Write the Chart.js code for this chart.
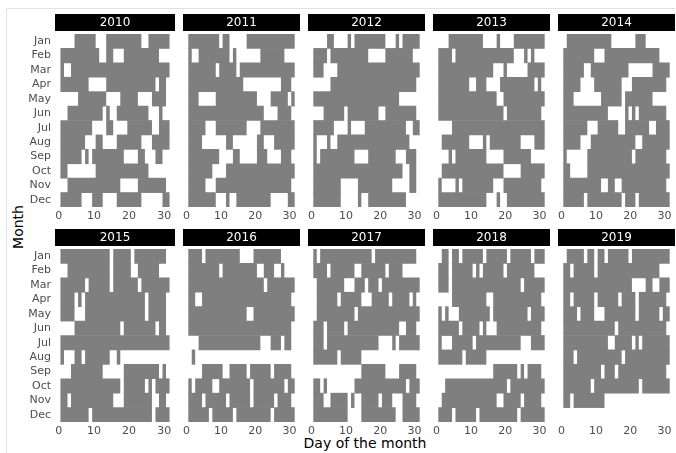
<!DOCTYPE html>
<html>
<head>
<meta charset="utf-8">
<script src="https://cdn.jsdelivr.net/npm/chart.js@4.4.0/dist/chart.umd.min.js"></script>
<style>
  html, body { margin: 0; padding: 0; background: #fff; }
  #wrap { position: relative; width: 676px; height: 453px; overflow: hidden; font-family: 'DejaVu Sans', sans-serif; }
  #wrap canvas { position: absolute; }
  .frameL { position: absolute; left: 6px; top: 8px; width: 1px; height: 445px; background: #e2e2e2; }
  .frameT { position: absolute; left: 6px; top: 8px; width: 670px; height: 1px; background: #e2e2e2; }
  #ytitle { position: absolute; left: 18px; top: 227px; transform: translate(-50%, -50%) rotate(-90deg); font-size: 14px; color: #000; white-space: nowrap; }
  #xtitle { position: absolute; left: 365px; top: 443px; transform: translate(-50%, -50%); font-size: 14px; color: #000; white-space: nowrap; }
</style>
</head>
<body>
<div id="wrap">
  <div class="frameL"></div>
  <div class="frameT"></div>
  <div id="ytitle">Month</div>
  <div id="xtitle">Day of the month</div>
</div>
<script>
const years = [2010, 2011, 2012, 2013, 2014, 2015, 2016, 2017, 2018, 2019];
const months = ['Jan', 'Feb', 'Mar', 'Apr', 'May', 'Jun', 'Jul', 'Aug', 'Sep', 'Oct', 'Nov', 'Dec'];
const dayTicks = [0, 10, 20, 30];

// days with a record, per month (Jan..Dec), written as day ranges
const y2010 = ['5-10,14-23,26-31', '1-11,14-15,19-28', '1,4-31', '1-8,14-27,29-30', '6-13,18-22,27-30', '3-12,14,17-25,29',
  '1-9,14-15,20-26,29-31', '1-7,11-12,17-23,27-31', '1-6,8,10-18,23-24,28-29', '1-2,11-25', '3-17,23-30', '1-6,10-12,17-23,30-31'];
const y2011 = ['1-9,11-12,18-31', '1,4-12,14,22-28', '1-8,10-14,16-31', '1-16,28-30', '1-3,9-20,25-29,31', '1-22,27-30',
  '1-5,9-17,22-31', '1-4,12-13,21-22,26-31', '1-9,14-15,21-23,28-30', '1-7,12-31', '1-5,9-30', '1-8,12,15-24,30-31'];
const y2012 = ['5-6,11,13-21,25,27-31', '1-4,6-16,22-29', '1-3,8-31', '6-30', '1-25', '4-9,11-19,22-30',
  '1-6,11,16-27,30-31', '1,5,8-28', '1,3-12,17-24,28-30', '1-26,29-30', '1-8,14-23,29-30', '1-8,14,17-27'];
const y2013 = ['4-13,18,23-31', '1-4,6-22,26,28', '1-16,20,27-31', '1-9,12-14,19-28,30', '1-17,20-31', '1-19,21-30',
  '5-31', '2-9,14,16-24,29-31', '4,6-14,20-27', '2-19,25-31', '1,6,8-16,20-30', '1-14,18,21-31'];
const y2014 = ['2-14,22-24', '1-9,13-28', '1-6,9-19,27-31', '1-5,10-17,21-30', '1-3,12-17,19-26', '1-13,19,21,23-30',
  '1-7,11-16,19-25,28-31', '1-5,9-21,24-31', '1,8-20,22-30', '1-2,8-31', '1-11,14-15,18-30', '1-6,8-17,19-21,23-31'];
const y2015 = ['1-14,16-20,22-30', '3-14,16-20,23-28', '1-7,9-14,16-22,24-31', '1-4,6,8-24,26-30', '1-4,8-24,26-30', '5-17,19-27,29-30',
  '1-31', '1,5-6,8-14,17', '4-12,19-28,30', '1-17,19-24,26,28-31', '1-2,4-15,19-26,29-30', '1-8,10-26,28-31'];
const y2016 = ['1-4,6-15,20-27', '1-9,11-20,23-25,28', '1-22,24-31', '1-2,5-30', '1-17,20-31', '1-30',
  '4-21,25-27,29-30', '2', '5-10,13-17,19-24,26-30', '1,3-7,10-18,20-28,30-31', '1-4,6-11,13-18,20-25,27-30', '1-6,8-13,15-24,26-31'];
const y2017 = ['1,3-17,19-30', '1-4,6-12,15-21,23-26', '2-9,13-15,17-19,21-31', '2-7,9-14,18-22,24-28,30', '2-12,14-31', '1-3,5-9,11-25,28-30',
  '1-3,5-19,24,26-31', '1-7,9-14', '15-21,26-30', '1-2,4,13-27,29-31', '1-3,6-10,12,15-19,21-23,27-30', '1-10,15-24,27-31'];
const y2018 = ['2-3,5-6,8-13,15-20,22-27,29-31', '1-3,5-10,12,14-19,21-28', '1-3,5-24,26-31', '5-14,17-30', '1,3,7-15,17-26,28-31', '1-6,8-12,14,18-30',
  '1,5-10,12-24,28-31', '1-7,9-14', '17-23,25,27-30', '3-20,22-31', '2-17,20-24,26-30', '1-4,6-11,13-23,25-31'];
const y2019 = ['2-6,8-9,11-12,14-19,21-31', '1-2,4-9,11-28', '1-20,25-26,29-31', '1-2,4-9,11-16,18-21,23-30', '1-4,6-9,13-21,23-28,30-31', '1-15,17-30',
  '1-13,16-20,22,24-31', '1-3,5-17,19-31', '1-11,13-15,17-30', '1-8,10-22,24-31', '1-2,4-12', ''];
const yearDays = [y2010, y2011, y2012, y2013, y2014, y2015, y2016, y2017, y2018, y2019];

Chart.defaults.font.family = "'DejaVu Sans', sans-serif";

function parseRuns(str) {
  if (!str) return [];
  return str.split(',').map(p => {
    const [a, b] = p.split('-').map(Number);
    return [a, b === undefined ? a : b];
  });
}

// black strip behind the facet title
const stripBg = {
  id: 'stripBg',
  beforeDraw(chart) {
    const { ctx, chartArea } = chart;
    ctx.save();
    ctx.fillStyle = '#000';
    ctx.fillRect(chartArea.left, 0, chartArea.right - chartArea.left, 17);
    ctx.restore();
  }
};

const wrap = document.getElementById('wrap');

years.forEach((year, i) => {
  const r = Math.floor(i / 5), c = i % 5;
  const axisW = c === 0 ? 50 : 0;
  const canvas = document.createElement('canvas');
  canvas.width = 120 + axisW;
  canvas.height = 215;
  canvas.style.left = (55 + 125 * c - axisW) + 'px';
  canvas.style.top = (14 + 215 * r) + 'px';
  canvas.style.width = canvas.width + 'px';
  canvas.style.height = canvas.height + 'px';
  wrap.appendChild(canvas);

  const runs = yearDays[i].map(parseRuns);
  const maxRuns = Math.max(...runs.map(x => x.length));
  const datasets = [];
  for (let k = 0; k < maxRuns; k++) {
    datasets.push({
      data: runs.map(m => m[k] ? [m[k][0] - 0.5, m[k][1] + 0.5] : null),
      backgroundColor: '#7f7f7f',
      borderWidth: 0,
      categoryPercentage: 1,
      barPercentage: 1.05,
      grouped: false
    });
  }

  new Chart(canvas, {
    type: 'bar',
    data: { labels: months, datasets: datasets },
    options: {
      indexAxis: 'y',
      responsive: false,
      animation: false,
      events: [],
      layout: { padding: 0 },
      plugins: {
        legend: { display: false },
        tooltip: { enabled: false },
        title: {
          display: true,
          text: String(year),
          color: '#fff',
          fullSize: false,
          font: { size: 12, weight: 'normal' },
          padding: { top: 1.2, bottom: 4.4 }
        }
      },
      scales: {
        x: {
          type: 'linear',
          min: -1.05,
          max: 33.05,
          grid: { display: false, drawTicks: false },
          border: { display: false },
          ticks: { color: '#4d4d4d', font: { size: 11 }, padding: 3, maxRotation: 0 },
          afterBuildTicks: s => { s.ticks = dayTicks.map(v => ({ value: v })); },
          afterFit: s => { s.height = 22; }
        },
        y: {
          type: 'category',
          offset: true,
          display: c === 0,
          grid: { display: false, drawTicks: false },
          border: { display: false },
          ticks: { color: '#4d4d4d', font: { size: 11 }, padding: 4, autoSkip: false },
          afterFit: s => { s.width = axisW; }
        }
      }
    },
    plugins: [stripBg]
  });
});
</script>
</body>
</html>
